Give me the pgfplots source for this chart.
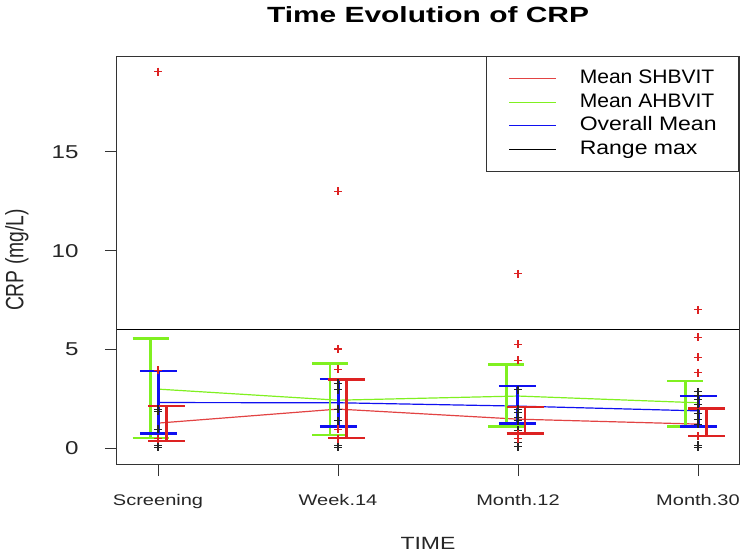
\documentclass[border=0pt]{standalone}
\usepackage{pgfplots}
\pgfplotsset{compat=1.18}
\usepackage{pgfplotstable}
\usepackage{graphicx}
\usepackage{fontspec}
\setmainfont{Liberation Sans}
\definecolor{rred}{HTML}{DD2222}
\definecolor{rgreen}{HTML}{80F020}
\definecolor{rblue}{HTML}{1010F0}

% error bars: x, lo, hi
\pgfplotstableread{
x lo hi
-0.041 0.52 5.56
0.956 0.66 4.29
1.935 1.11 4.24
2.930 1.11 3.41
}\greenbars
\pgfplotstableread{
x lo hi
0.002 0.74 3.90
1.002 1.11 3.50
1.996 1.25 3.14
3.002 1.11 2.64
}\bluebars
\pgfplotstableread{
x lo hi
0.048 0.37 2.13
1.048 0.52 3.48
2.039 0.74 2.09
3.048 0.62 2.01
}\redbars

\begin{document}
\begin{tikzpicture}
\useasboundingbox (-117pt,-91pt) rectangle (626pt,464pt);
\begin{axis}[
  at={(0,0)}, anchor=south west,
  scale only axis, width=622pt, height=408pt,
  xmin=-0.228, xmax=3.228, ymin=-0.8, ymax=19.85,
  xtick={0,1,2,3},
  xticklabels={\scalebox{1.3}[1]{Screening},\scalebox{1.3}[1]{Week.14},\scalebox{1.3}[1]{Month.12},\scalebox{1.3}[1]{Month.30}},
  ytick={0,5,10,15},
  yticklabel={\scalebox{1.3}[1]{\pgfmathprintnumber{\tick}}},
  /pgf/number format/assume math mode=true,
  xtick pos=bottom, ytick pos=left,
  tick align=outside, major tick length=12pt,
  tick style={black!80, line width=0.9pt},
  axis line style={black!80, line width=1pt},
  xticklabel style={font=\fontsize{15.4}{17}\selectfont, text=black!85, yshift=-15pt},
  yticklabel style={font=\fontsize{18.6}{20}\selectfont, text=black!85, xshift=-23pt},
  title={\scalebox{1.36}[1]{Time Evolution of CRP}},
  title style={font=\fontsize{22}{24}\selectfont\bfseries, at={(axis description cs:0.5,1.068)}, anchor=base},
  xlabel={\scalebox{1.3}[1]{TIME}},
  xlabel style={font=\fontsize{17.7}{20}\selectfont, text=black!85, at={(axis description cs:0.5,-0.1936)}, anchor=center},
  ylabel={\scalebox{1}[1.3]{CRP (mg/L)}},
  ylabel style={font=\fontsize{19.3}{21}\selectfont, text=black!85, at={(axis description cs:-0.1608,0.5)}, anchor=center},
  legend style={at={(axis description cs:1,1)}, anchor=north east, draw=black!80, line width=0.8pt, fill=white,
    inner xsep=22pt, inner ysep=13pt, row sep=5.7pt, column sep=23pt,
    font=\fontsize{19.5}{21}\selectfont,
    nodes={inner sep=0pt, text height=14pt, text depth=4pt}},
  legend cell align=left,
  legend image code/.code={\draw[#1, line width=1.2pt] (0pt,0pt) -- (47pt,0pt);},
]
% mean lines
\addplot[rred!85, line width=1.2pt] coordinates {(0,1.27) (1,1.98) (2,1.47) (3,1.22)};
\addlegendentry{\scalebox{1.08}[1]{Mean SHBVIT}}
\addplot[rgreen, line width=1.2pt] coordinates {(0,2.99) (1,2.43) (2,2.64) (3,2.30)};
\addlegendentry{\scalebox{1.08}[1]{Mean AHBVIT}}
\addplot[rblue, line width=1.2pt] coordinates {(0,2.31) (1,2.30) (2,2.13) (3,1.89)};
\addlegendentry{\scalebox{1.18}[1]{Overall Mean}}
\addplot[black, line width=1.2pt] coordinates {(-0.228,6) (3.228,6)};
\addlegendentry{\scalebox{1.18}[1]{Range max}}

% error bars
\addplot[draw=none, mark=none, forget plot,
  error bars/.cd, y dir=both, y explicit,
  error bar style={draw=rgreen, line width=2.6pt},
  error mark options={draw=rgreen, rotate=90, mark size=18pt, line width=2.6pt}]
  table[x=x, y=lo, y error plus expr=\thisrow{hi}-\thisrow{lo}, y error minus expr=0] {\greenbars};
\addplot[draw=none, mark=none, forget plot,
  error bars/.cd, y dir=both, y explicit,
  error bar style={draw=rblue, line width=2.6pt},
  error mark options={draw=rblue, rotate=90, mark size=18.5pt, line width=2.6pt}]
  table[x=x, y=lo, y error plus expr=\thisrow{hi}-\thisrow{lo}, y error minus expr=0] {\bluebars};

% individual values
\addplot[only marks, mark=+, mark size=4pt, black!85, line width=1.1pt, forget plot] coordinates {
 (0,1.98) (0,1.86) (0,0.96) (0,0.49) (0,0.15) (0,0.04)
 (1,3.28) (1,2.97) (1,1.98) (1,1.38) (1,0.15) (1,0.04)
 (2,2.97) (2,1.96) (2,1.79) (2,1.55) (2,1.38) (2,0.91) (2,0.27) (2,0.07)
 (3,2.85) (3,2.69) (3,2.47) (3,2.23) (3,1.76) (3,1.45) (3,1.22) (3,0.15) (3,0.04)
};

\addplot[draw=none, mark=none, forget plot,
  error bars/.cd, y dir=both, y explicit,
  error bar style={draw=rred, line width=2.6pt},
  error mark options={draw=rred, rotate=90, mark size=18.5pt, line width=2.6pt}]
  table[x=x, y=lo, y error plus expr=\thisrow{hi}-\thisrow{lo}, y error minus expr=0] {\redbars};

\addplot[only marks, mark=+, mark size=4pt, rred, line width=1.1pt, forget plot] coordinates {
 (0,19.06) (0,3.95) (0,0.49)
 (1,13.0) (1,5.02) (1,3.99) (1,0.96) (1,0.49)
 (2,8.82) (2,5.27) (2,4.46) (2,0.71) (2,0.49)
 (3,7.0) (3,5.61) (3,4.60) (3,3.82) (3,0.61)
};
\end{axis}
\end{tikzpicture}
\end{document}
